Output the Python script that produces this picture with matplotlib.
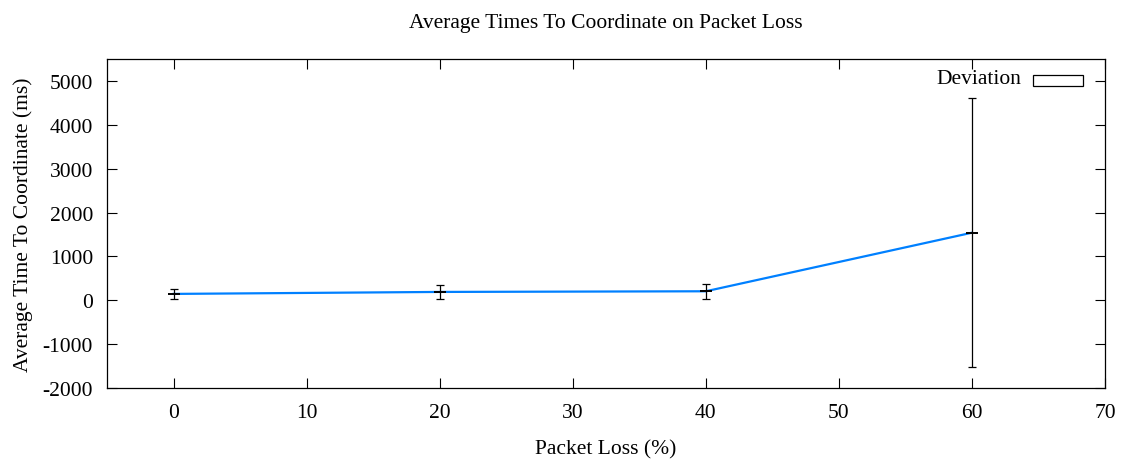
import matplotlib
matplotlib.use("Agg")
import matplotlib.pyplot as plt
from matplotlib.patches import Rectangle

packet_loss = [0, 20, 40, 60]
avg_time = [145, 190, 205, 1540]
deviation = [105, 152, 171, 3070]
xticks = [0, 10, 20, 30, 40, 50, 60, 70]
yticks = [-2000, -1000, 0, 1000, 2000, 3000, 4000, 5000]

plt.rcParams['font.family'] = ['Liberation Serif', 'DejaVu Serif']
plt.rcParams['font.size'] = 15.5
plt.rcParams['axes.unicode_minus'] = False

fig = plt.figure(figsize=(11.23, 4.6), dpi=100)
ax = fig.add_axes([107/1123, 1-389/460, (1105-107)/1123, (389-60)/460])

ax.plot(packet_loss, avg_time, color='#0080ff', lw=1.6, zorder=2)
ax.errorbar(packet_loss, avg_time, yerr=deviation, fmt='none', ecolor='black',
            elinewidth=0.9, capsize=3, capthick=0.9, zorder=3)
ax.plot(packet_loss, avg_time, linestyle='none', marker='_', color='black',
        markersize=8, mew=1.4, zorder=4)

ax.set_xlim(-5, 70)
ax.set_ylim(-2000, 5500)
ax.set_xticks(xticks)
ax.set_yticks(yticks)
ax.tick_params(direction='in', length=7, width=0.8, top=True, right=True)
ax.tick_params(axis='x', pad=11)
ax.tick_params(axis='y', pad=10)
for s in ax.spines.values():
    s.set_linewidth(0.9)

ax.set_title('Average Times To Coordinate on Packet Loss', fontsize=15.5, pad=23)
ax.set_xlabel('Packet Loss (%)', labelpad=12)
ax.set_ylabel('Average Time To Coordinate (ms)', labelpad=7)

# legend (gnuplot style)
fig.text(1021/1123, 1-79/460, 'Deviation', ha='right', va='center', fontsize=15.5)
fig.patches.append(Rectangle((1033/1123, 1-87/460), 50/1123, 11/460,
                             transform=fig.transFigure, fill=False,
                             edgecolor='black', lw=0.9))

fig.savefig('out.png', dpi=100)
